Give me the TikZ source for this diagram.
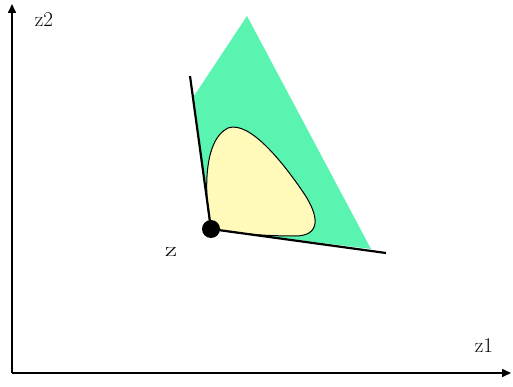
\documentclass[tikz,border=0pt]{standalone}
\usetikzlibrary{arrows.meta}
\definecolor{greenfill}{RGB}{88,244,176}
\definecolor{yellowfill}{RGB}{255,250,185}
\tikzset{
  axis/.style={line width=1.6pt,-{Triangle[length=9pt,width=8pt]}},
  edge/.style={line width=2.2pt},
  lbl/.style={font=\fontsize{21}{25}\selectfont}
}
\begin{document}
\begin{tikzpicture}[x=1pt,y=-1pt]
\useasboundingbox (0,0) rectangle (513,387);
% axes
\coordinate (o) at (12,373);
\coordinate (ytop) at (12,4);
\coordinate (xend) at (511,373);
\draw[axis] (o) -- (ytop);
\draw[axis] (o) -- (xend);
\node[lbl] (z2) at (44,20) {z2};
\node[lbl] (z1) at (484,346) {z1};
% cone
\fill[greenfill] (194,96) -- (247,16) -- (371,249) -- (211,229) -- cycle;
% blob
\draw[fill=yellowfill, line width=1pt] (211,228) .. controls (204,195) and (203,140) .. (228,128)
  .. controls (250,120) and (285,165) .. (305,195)
  .. controls (318,215) and (322,236) .. (295,236)
  .. controls (260,236) and (230,233) .. (211,228) -- cycle;
% cone edges
\coordinate (p) at (211,229);
\coordinate (a) at (190,76);
\coordinate (b) at (386,253);
\draw[edge] (a) -- (p) -- (b);
\fill (p) circle (9);
\node[lbl, xscale=1.4] (zl) at (171,252) {z};
\end{tikzpicture}
\end{document}
